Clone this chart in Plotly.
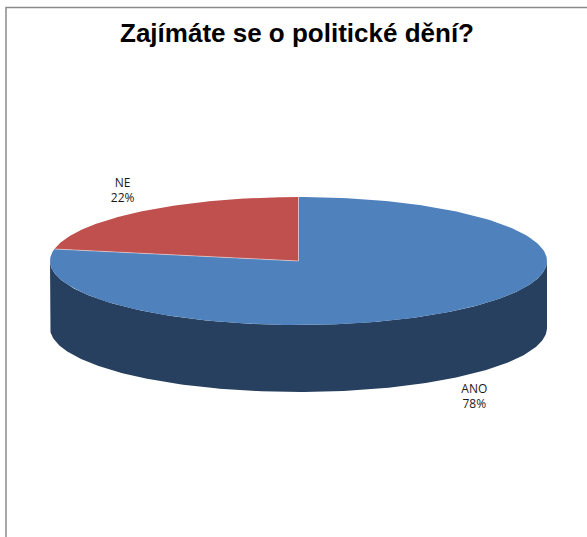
import numpy as np
import plotly.graph_objects as go

title = "Zajímáte se o politické dění?"
categories = ["ANO", "NE"]
values = [78, 22]
top_colors = ["#4F81BD", "#C0504D"]
side_colors = ["#27405F", "#7D2F2D"]

W, H = 587, 537
cx, cy, rx, ry, depth = 298.5, 261, 248.5, 64, 67

total = sum(values)
fracs = [v / total for v in values]
starts = np.cumsum([0] + fracs[:-1]) * 2 * np.pi
ends = np.cumsum(fracs) * 2 * np.pi


def arc(a0, a1, dy=0, n=200):
    t = np.linspace(a0, a1, n)
    return cx + rx * np.sin(t), cy - ry * np.cos(t) + dy


fig = go.Figure()

# side walls (front half only)
for i in range(len(values)):
    a0 = max(starts[i], np.pi / 2)
    a1 = min(ends[i], 3 * np.pi / 2)
    if a1 > a0:
        xt, yt = arc(a0, a1)
        xb, yb = arc(a1, a0, depth)
        fig.add_trace(go.Scatter(
            x=np.concatenate([xt, xb, xt[:1]]), y=np.concatenate([yt, yb, yt[:1]]),
            fill="toself", fillcolor=side_colors[i], mode="lines",
            line=dict(width=0, color=side_colors[i]), hoverinfo="skip"))

# top faces
for i in range(len(values)):
    xa, ya = arc(starts[i], ends[i])
    fig.add_trace(go.Scatter(
        x=np.concatenate([[cx], xa, [cx]]), y=np.concatenate([[cy], ya, [cy]]),
        fill="toself", fillcolor=top_colors[i], mode="lines",
        line=dict(width=0, color=top_colors[i]), hoverinfo="skip"))

# radial boundary lines
for i in range(len(values)):
    xe, ye = arc(starts[i], starts[i], n=1)
    fig.add_trace(go.Scatter(
        x=[cx, xe[0]], y=[cy, ye[0]], mode="lines",
        line=dict(width=1, color="rgba(255,255,255,0.45)"), hoverinfo="skip"))

# labels
lx, ly, lt = [], [], []
for i in range(len(values)):
    mid = (starts[i] + ends[i]) / 2
    lx.append(cx + 1.11 * rx * np.sin(mid))
    ly.append(cy - 1.41 * ry * np.cos(mid) + (depth if np.cos(mid) < 0 else 0))
    lt.append(f"{categories[i]}<br>{round(fracs[i] * 100)}%")
fig.add_trace(go.Scatter(
    x=lx, y=ly, text=lt, mode="text", textposition="middle center",
    textfont=dict(family="Open Sans", size=12, color="#1a1a1a"), hoverinfo="skip"))

fig.update_layout(
    width=W, height=H,
    margin=dict(l=0, r=0, t=0, b=0),
    paper_bgcolor="white", plot_bgcolor="white",
    showlegend=False,
    title=dict(text=title, x=0.506, xanchor="center", y=1 - 33 / H, yanchor="middle",
               yref="container",
               font=dict(family="Liberation Sans", size=26, color="black", weight="bold")),
    xaxis=dict(range=[0, W], visible=False, fixedrange=True),
    yaxis=dict(range=[H, 0], visible=False, fixedrange=True),
    shapes=[dict(type="rect", xref="x", yref="y", x0=6, x1=W + 20, y0=7.5, y1=H + 20,
                 line=dict(color="#8a8a8a", width=1.5), fillcolor="rgba(0,0,0,0)", layer="below")],
)

fig.write_html("out.html", config={"displayModeBar": False},
               post_script="document.body.style.margin='0';document.body.style.overflow='hidden';")
